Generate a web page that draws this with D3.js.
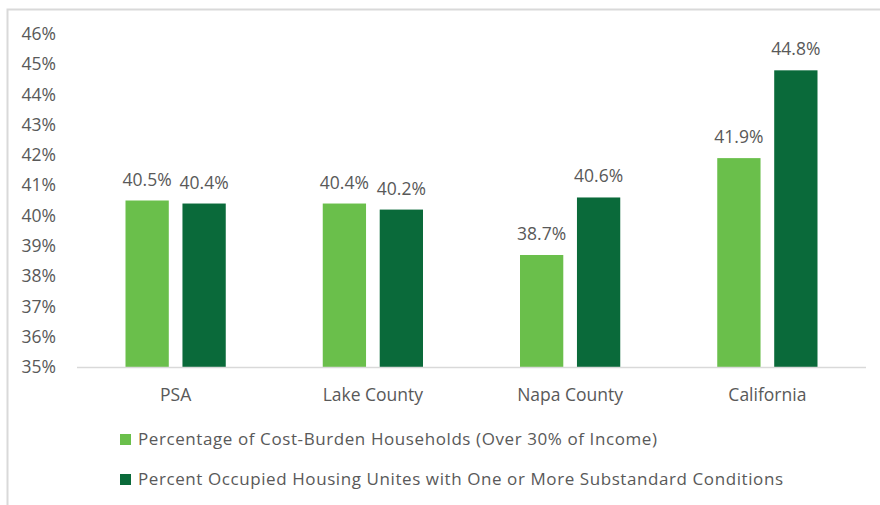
<!DOCTYPE html>
<html>
<head>
<meta charset="utf-8">
<script src="https://cdn.jsdelivr.net/npm/d3@7"></script>
<style>
  body { margin: 0; background: #fff; }
  svg text { font-family: "Open Sans", sans-serif; fill: #595959; }
</style>
</head>
<body>
<div id="chart"></div>
<script>
// data
const categories = ["PSA", "Lake County", "Napa County", "California"];
const seriesNames = [
    "Percentage of Cost-Burden Households (Over 30% of Income)",
    "Percent Occupied Housing Unites with One or More Substandard Conditions"
];
const costBurden = [40.5, 40.4, 38.7, 41.9];
const substandard = [40.4, 40.2, 40.6, 44.8];
const yTicks = [35, 36, 37, 38, 39, 40, 41, 42, 43, 44, 45, 46];

const colors = ["#6abf4b", "#0a6a3a"];

const width = 880, height = 505;
const margin = {top: 34, left: 77, right: 14, bottom: 138};

const svg = d3.select("#chart").append("svg")
    .attr("width", width)
    .attr("height", height);

// chart frame
svg.append("rect")
    .attr("x", 7.5)
    .attr("y", 9.5)
    .attr("width", width + 20)
    .attr("height", height + 20)
    .attr("fill", "none")
    .attr("stroke", "#d9d9d9")
    .attr("stroke-width", 2);

const x = d3.scaleBand()
    .domain(categories)
    .range([margin.left, width - margin.right])
    .paddingInner(0)
    .paddingOuter(0);

const x1 = d3.scaleBand()
    .domain([0, 1])
    .range([48.5, x.bandwidth() - 48.5])
    .paddingInner(0.24);

const y = d3.scaleLinear()
    .domain([35, 46])
    .range([height - margin.bottom, margin.top]);

// y tick labels
svg.append("g")
    .selectAll("text")
    .data(yTicks)
    .join("text")
    .attr("x", 56)
    .attr("y", d => y(d))
    .attr("dy", "0.35em")
    .attr("text-anchor", "end")
    .style("font-size", "17.5px")
    .text(d => d + "%");

const rows = categories.map((c, i) => ({cat: c, vals: [costBurden[i], substandard[i]]}));

const groups = svg.append("g")
    .selectAll("g")
    .data(rows)
    .join("g")
    .attr("transform", d => "translate(" + x(d.cat) + ",0)");

groups.selectAll("rect")
    .data(d => d.vals)
    .join("rect")
    .attr("x", (d, i) => x1(i))
    .attr("y", d => y(d))
    .attr("width", x1.bandwidth())
    .attr("height", d => y(35) - y(d))
    .attr("fill", (d, i) => colors[i]);

groups.selectAll("text.val")
    .data(d => d.vals)
    .join("text")
    .attr("class", "val")
    .attr("x", (d, i) => x1(i) + x1.bandwidth() / 2)
    .attr("y", d => y(d) - 15)
    .attr("text-anchor", "middle")
    .style("font-size", "17.5px")
    .text(d => d.toFixed(1) + "%");

// baseline
svg.append("line")
    .attr("x1", margin.left)
    .attr("x2", width - margin.right)
    .attr("y1", y(35) + 0.5)
    .attr("y2", y(35) + 0.5)
    .attr("stroke", "#d9d9d9")
    .attr("stroke-width", 1.5);

// category labels
svg.append("g")
    .selectAll("text")
    .data(categories)
    .join("text")
    .attr("x", d => x(d) + x.bandwidth() / 2)
    .attr("y", 401)
    .attr("text-anchor", "middle")
    .style("font-size", "17.5px")
    .text(d => d);

// legend
const legendWidths = [519, 645];
const legend = svg.append("g")
    .selectAll("g")
    .data(seriesNames)
    .join("g")
    .attr("transform", (d, i) => "translate(120," + (434 + i * 40) + ")");

legend.append("rect")
    .attr("width", 11)
    .attr("height", 11)
    .attr("fill", (d, i) => colors[i]);

legend.append("text")
    .attr("x", 18)
    .attr("y", 5.5)
    .attr("dy", "0.35em")
    .attr("textLength", (d, i) => legendWidths[i])
    .attr("lengthAdjust", "spacing")
    .style("font-size", "17px")
    .text(d => d);
</script>
</body>
</html>
